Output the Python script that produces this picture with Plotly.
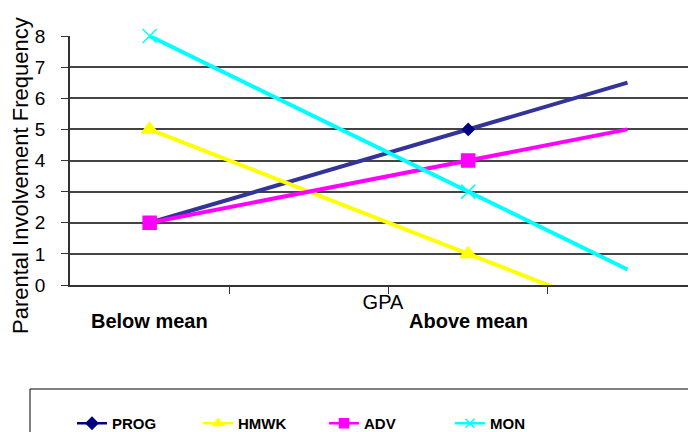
import plotly.graph_objects as go

# Data
categories = ["Below mean", "Above mean"]
cat_pos = [0, 2]              # positions of the two GPA groups on the x scale
trend_pos = 3                 # position where the drawn trend lines end
series_names = ["PROG", "HMWK", "ADV", "MON"]
prog = [2, 5]
hmwk = [5, 1]
adv = [2, 4]
mon = [8, 3]
trend_end = {"PROG": 6.5, "HMWK": -1, "ADV": 5, "MON": 0.5}
y_ticks = [0, 1, 2, 3, 4, 5, 6, 7, 8]

values = {"PROG": prog, "HMWK": hmwk, "ADV": adv, "MON": mon}
line_colors = {"PROG": "#333399", "HMWK": "#FFFF00", "ADV": "#FF00FF", "MON": "#00FFFF"}
marker_colors = {"PROG": "#000080", "HMWK": "#FFFF00", "ADV": "#FF00FF", "MON": "#00FFFF"}
symbols = {"PROG": "diamond", "HMWK": "triangle-up", "ADV": "square", "MON": "x-thin-open"}
sizes = {"PROG": 9, "HMWK": 14, "ADV": 13, "MON": 14}

FONT = "Liberation Sans, Arial, sans-serif"

# plot-area geometry (pixels within the figure)
L, R, T, B = 62, 8, 28, 155
PW = 696 - L - R
PH = 432 - T - B

fig = go.Figure()

# trend lines (no legend)
for name in series_names:
    fig.add_trace(go.Scatter(
        x=cat_pos + [trend_pos], y=values[name] + [trend_end[name]],
        mode="lines", line=dict(color=line_colors[name], width=4),
        showlegend=False, hoverinfo="skip"))

# markers
for name in series_names:
    fig.add_trace(go.Scatter(
        x=cat_pos, y=values[name], name=name, mode="markers",
        marker=dict(symbol=symbols[name], size=sizes[name], color=marker_colors[name],
                    line=dict(color=marker_colors[name], width=1.5)),
        cliponaxis=False, showlegend=False))

# legend entries
for name in series_names:
    leg_line = marker_colors[name] if name == "PROG" else line_colors[name]
    fig.add_trace(go.Scatter(
        x=[None], y=[None], name=name, mode="lines+markers",
        line=dict(color=leg_line, width=2.5),
        marker=dict(symbol=symbols[name], size=9, color=marker_colors[name],
                    line=dict(color=marker_colors[name], width=1.5)),
        showlegend=True))

# category labels under the axis
for pos, lab in zip(cat_pos, categories):
    fig.add_annotation(x=pos, xref="x", y=-36 / PH, yref="paper", text=lab,
                       showarrow=False, xanchor="center", yanchor="middle",
                       font=dict(family=FONT, size=20, color="black", weight="bold"))

# y axis title
fig.add_annotation(x=-50 / PW, xref="paper", y=(249 - 140) / PH, yref="paper",
                   text="Parental Involvement Frequency", textangle=-90,
                   showarrow=False, xanchor="center", yanchor="middle",
                   font=dict(family=FONT, size=22, color="black"))

# legend frame (extends past the visible area)
fig.add_shape(type="rect", xref="paper", yref="paper",
              x0=-40 / PW, x1=1.2, y0=-0.75, y1=-(389 - 285) / PH,
              line=dict(color="black", width=1), fillcolor="rgba(0,0,0,0)")

fig.update_layout(
    width=696, height=432,
    margin=dict(l=L, r=R, t=T, b=B, autoexpand=False),
    paper_bgcolor="white", plot_bgcolor="white",
    font=dict(family=FONT, size=18, color="black"),
    showlegend=True,
    legend=dict(orientation="h", xref="container", x=64 / 696, xanchor="left",
                yref="container", y=-0.005, yanchor="bottom",
                font=dict(family=FONT, size=15, color="black", weight="bold"),
                entrywidth=81, bgcolor="rgba(0,0,0,0)"),
    xaxis=dict(range=[-0.5, 3.43], tickvals=[0.5, 1.5, 2.5], ticks="outside", ticklen=7,
               tickcolor="#333333", showticklabels=False, showgrid=False, zeroline=False,
               showline=True, linecolor="#333333", linewidth=1.5, automargin=False,
               title=dict(text="GPA", standoff=2, font=dict(family=FONT, size=20))),
    yaxis=dict(range=[0, 8], tickvals=y_ticks, ticks="outside", ticklen=7,
               tickcolor="#333333", showgrid=True, gridcolor="#444444", gridwidth=1.5,
               zeroline=False, showline=True, linecolor="#333333", linewidth=1.5,
               automargin=False, ticklabelstandoff=12,
               tickfont=dict(family=FONT, size=19)),
)

fig.write_html("out.html")
